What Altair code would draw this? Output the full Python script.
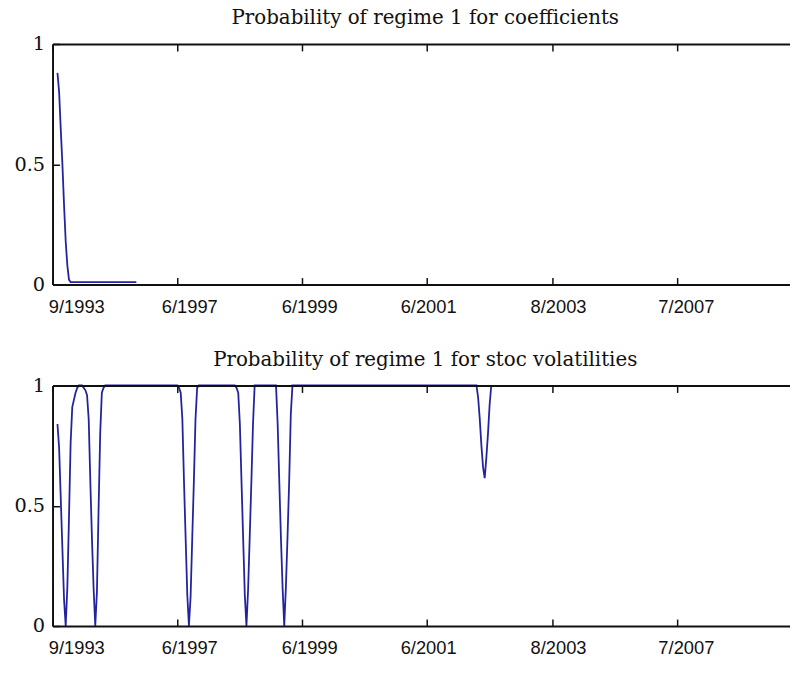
import altair as alt
import pandas as pd

# ---- data ----
titles = ["Probability of regime 1 for coefficients",
          "Probability of regime 1 for stoc volatilities"]

tick_obs = [0, 76, 152, 228, 304, 380]
tick_labels = ["9/1993", "6/1997", "6/1999", "6/2001", "8/2003", "7/2007"]
label_shift = [24, 12, 7, 1, 6, 9]

coef_obs = [3, 4, 5, 6, 7, 8, 9, 10, 11, 51]
coef_prob = [0.88, 0.80, 0.645, 0.50, 0.33, 0.18, 0.08, 0.02, 0.01, 0.01]

vol_obs = [3, 4, 5, 6, 7, 8, 9, 10, 11, 12, 13, 14, 15, 16, 18, 19, 20, 21, 22, 23,
           24, 25, 26, 27, 28, 29, 30, 31, 32,
           76, 77, 78, 79, 80, 81, 82, 83, 84, 85, 86, 87, 88, 89,
           111, 112, 113, 114, 115, 116, 117, 118, 119, 120, 121, 122, 123,
           136, 137, 138, 139, 140, 141, 142, 143, 144, 145, 146,
           258, 259, 260, 261, 262, 263, 264, 265, 266, 267]
vol_prob = [0.84, 0.74, 0.53, 0.32, 0.11, 0.0, 0.16, 0.45, 0.76, 0.91, 0.94, 0.97, 0.99, 1.0, 1.0, 0.99, 0.98, 0.96, 0.86, 0.60,
            0.36, 0.155, 0.0, 0.14, 0.48, 0.80, 0.97, 0.99, 1.0,
            1.0, 0.99, 0.97, 0.86, 0.60, 0.365, 0.13, 0.0, 0.12, 0.36, 0.60, 0.86, 0.99, 1.0,
            1.0, 0.99, 0.97, 0.84, 0.60, 0.365, 0.13, 0.0, 0.15, 0.37, 0.60, 0.84, 1.0,
            1.0, 0.84, 0.60, 0.365, 0.16, 0.0, 0.16, 0.37, 0.60, 0.88, 1.0,
            1.0, 0.95, 0.86, 0.75, 0.66, 0.615, 0.70, 0.80, 0.92, 1.0]

# ---- styling ----
LINE = "#2323a0"
W, H = 745, 243
XMAX = 448.8
LABEL_PAD = 20

label_expr = "''"
for t, lab in reversed(list(zip(tick_obs, tick_labels))):
    label_expr = f"datum.value == {t} ? '{lab}' : ({label_expr})"

offset_cond = {
    "condition": [{"test": f"datum.value == {t}", "value": s}
                  for t, s in zip(tick_obs, label_shift)],
    "value": 0,
}

xscale = alt.Scale(domain=[0, XMAX], nice=False, zero=False)
yscale = alt.Scale(domain=[0, 1], nice=False, zero=False)

bottom_axis = alt.Axis(
    values=tick_obs, labelExpr=label_expr, title=None, grid=False,
    domain=True, domainColor="#111", domainWidth=2,
    ticks=True, tickColor="#111", tickWidth=1.5, tickSize={"expr": "-7"},
    labelFont="Liberation Sans", labelFontSize=18.5, labelColor="#111",
    labelPadding=LABEL_PAD, labelOffset=offset_cond, labelFlush=False,
    labelOverlap=False, zindex=1, minExtent=0,
)
top_axis = alt.Axis(
    orient="top", values=tick_obs, labels=False, title=None, grid=False,
    domain=True, domainColor="#111", domainWidth=2,
    ticks=True, tickColor="#111", tickWidth=1.5, tickSize={"expr": "-7"},
    zindex=1, minExtent=0, maxExtent=0,
)
left_axis = alt.Axis(
    values=[0, 0.5, 1], format="~g", title=None, grid=False,
    domain=True, domainColor="#111", domainWidth=2,
    ticks=True, tickColor="#111", tickWidth=1.5, tickSize={"expr": "-7"},
    labelFont="DejaVu Serif", labelFontSize=19.5, labelColor="#111",
    labelPadding=15, labelFlush=False, labelOverlap=False, zindex=1,
)


def panel(obs, prob, title):
    df = pd.DataFrame({"obs": obs, "prob": prob})
    line = alt.Chart(df).mark_line(color=LINE, strokeWidth=1.8).encode(
        x=alt.X("obs:Q", scale=xscale, axis=bottom_axis),
        y=alt.Y("prob:Q", scale=yscale, axis=left_axis),
    )
    ghost = alt.Chart(df).mark_line(strokeOpacity=0).encode(
        x=alt.X("obs:Q", scale=xscale, axis=top_axis),
        y=alt.Y("prob:Q", scale=yscale, axis=None),
    )
    return alt.layer(line, ghost).resolve_axis(x="independent", y="independent").properties(
        width=W, height=H,
        title=alt.TitleParams(
            text=title, font="DejaVu Serif", fontSize=20, fontWeight="normal",
            color="#111", anchor="middle", frame="group", baseline="alphabetic",
            offset=-10, dx=4,
        ),
    )


chart = alt.vconcat(
    panel(coef_obs, coef_prob, titles[0]),
    panel(vol_obs, vol_prob, titles[1]),
    spacing=34,
).properties(
    padding={"left": 5, "top": -3, "right": 0, "bottom": 0},
    background="white",
).configure_view(stroke=None)

chart.save("out.html", embed_options={"renderer": "svg", "actions": False})
